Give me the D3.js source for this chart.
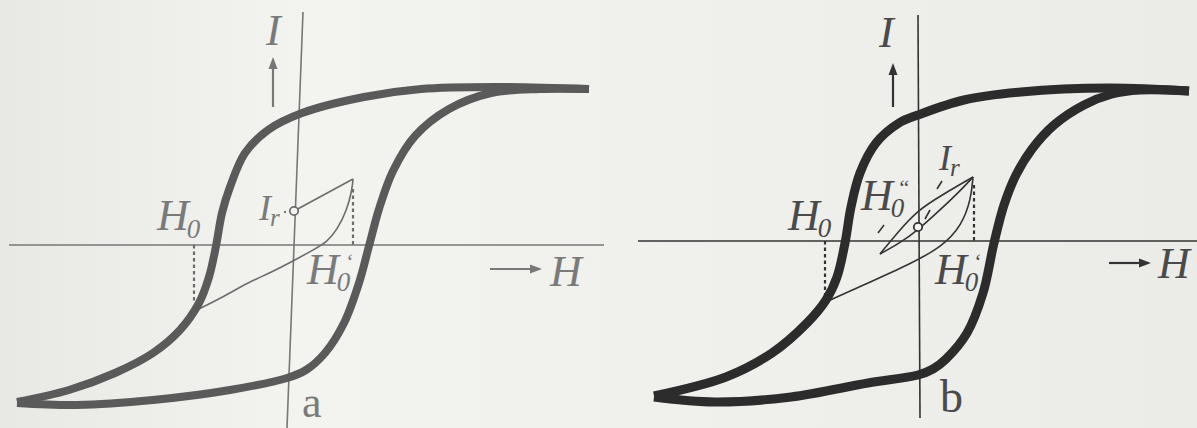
<!DOCTYPE html>
<html>
<head>
<meta charset="utf-8">
<script src="https://cdn.jsdelivr.net/npm/d3@7"></script>
<style>
html,body{margin:0;padding:0;background:#eeeeec;}
svg{display:block;}
</style>
</head>
<body>
<script>
// ---------- DATA (H, I in arbitrary field / magnetisation units) ----------
// Panel a – outer hysteresis loop
const aUpper = [[29.6,15.6],[20.4,15.8],[12.8,15.6],[7.1,14.8],[0.9,13.2],[-2.5,11.5],[-4.8,9.2],[-6.3,5.8],[-7.1,3.2],[-7.7,-0.1],[-8.4,-3.2],[-9.4,-5.8],[-11.3,-8.5],[-14.0,-10.8],[-17.8,-12.8],[-22.4,-14.5],[-27.6,-15.7]];
const aLower = [[-27.6,-15.8],[-21.6,-16.0],[-14.0,-15.5],[-6.3,-14.5],[-0.6,-13.3],[1.3,-12.5],[3.2,-10.8],[5.1,-7.8],[6.6,-3.8],[7.6,-0.1],[8.6,3.6],[10.0,7.4],[12.2,10.9],[15.6,13.6],[19.8,15.2],[24.7,15.6],[29.6,15.6]];
// Panel a – minor loop
const aIrLine = [[0.1,3.4],[6.0,6.6]];
const aMinor = [[6.0,6.6],[5.9,5.5],[5.4,3.5],[4.4,1.5],[3.4,0.3],[2.0,-0.5],[0.2,-1.5],[-2.3,-2.8],[-4.6,-3.8],[-6.8,-5.1],[-9.4,-6.4]];
const aIr = [0.1,3.4];
const aDotted = [[[-9.9,0],[-9.9,-5.7]],[[6.0,5.6],[6.0,0]]];
const aAxisH = [[-28.4,0],[31.1,0]];
const aAxisI = [[1.0,23.3],[-0.6,-18.3]];
const aArrowI = [[-2.0,13.8],[-2.0,18.8]];
const aArrowH = [[19.7,-2.4],[24.9,-2.4]];

// Panel b – outer hysteresis loop
const bUpper = [[27.1,15.0],[19.1,15.3],[10.3,14.9],[4.6,14.1],[0,12.6],[-1.9,11.8],[-4.2,9.8],[-5.8,6.8],[-6.7,3.4],[-7.3,-0.2],[-8.1,-3.6],[-9.2,-5.9],[-11.1,-8.2],[-14.6,-11.2],[-19.2,-13.6],[-26.4,-15.5]];
const bLower = [[-26.4,-15.6],[-20.3,-16.1],[-12.7,-15.6],[-5.0,-14.2],[0,-13.4],[1.5,-12.8],[2.8,-11.8],[4.9,-9.2],[6.5,-5.2],[7.6,-0.2],[8.6,3.6],[9.8,6.6],[11.4,9.2],[13.6,11.6],[16.6,13.6],[19.4,14.7],[22.2,15.1],[27.1,15.0]];
// Panel b – minor loops
const bMinor = [[-9.2,-6.1],[-5.0,-4.2],[-1.0,-2.4],[2.4,-0.6],[4.4,1.6],[5.3,4.2],[5.5,6.4]];
const bLensUpper = [[5.5,6.4],[2.4,4.6],[0,3.1],[-2.0,0.9],[-3.8,-1.3]];
const bLensLower = [[-3.8,-1.3],[-1.8,-0.2],[0,1.1],[2.2,3.1],[4.2,5.0],[5.5,6.4]];
const bIr = [0,1.4];
const bTicks = [[[-4.0,0.8],[-3.4,1.6]],[[0.7,2.2],[1.2,3.1]],[[1.9,5.2],[2.4,6.0]]];
const bDotted = [[[-9.3,0],[-9.3,-5.6]],[[5.6,5.6],[5.6,0]]];
const bAxisH = [[-28.0,0],[28.0,0]];
const bAxisI = [[0,22.6],[0.2,-17.7]];
const bArrowI = [[-2.5,13.4],[-2.5,17.8]];
const bArrowH = [[19.1,-2.2],[23.3,-2.2]];

// ---------- LAYOUT ----------
const W = 1197, H = 428;
const FONT = "'Liberation Serif','Times New Roman','Open Sans','Noto Sans',sans-serif";
const svg = d3.select("body").append("svg").attr("width", W).attr("height", H);
const defs = svg.append("defs");
const grad = defs.append("linearGradient").attr("id","bg").attr("x1","0").attr("x2","1").attr("y1","0").attr("y2","0");
grad.append("stop").attr("offset","0%").attr("stop-color","#e8e8e5");
grad.append("stop").attr("offset","25%").attr("stop-color","#f3f3f0");
grad.append("stop").attr("offset","55%").attr("stop-color","#f0f0ed");
grad.append("stop").attr("offset","100%").attr("stop-color","#ebebe8");
svg.append("rect").attr("width",W).attr("height",H).attr("fill","url(#bg)");

function panel(cfg){
  const x = d3.scaleLinear().domain([-30,30]).range([cfg.ox-300, cfg.ox+300]);
  const y = d3.scaleLinear().domain([-20,25]).range([cfg.oy+200, cfg.oy-250]);
  const g = svg.append("g");
  const smooth = d3.line().x(d=>x(d[0])).y(d=>y(d[1])).curve(d3.curveBasis);
  const soft = d3.line().x(d=>x(d[0])).y(d=>y(d[1])).curve(d3.curveCatmullRom.alpha(0.5));
  const straight = d3.line().x(d=>x(d[0])).y(d=>y(d[1]));

  [cfg.axisH, cfg.axisI].forEach(a=>{
    g.append("path").attr("d", straight(a)).attr("stroke", cfg.axisColor).attr("stroke-width",1.6).attr("fill","none");
  });
  cfg.dotted.forEach(a=>{
    g.append("path").attr("d", straight(a)).attr("stroke", cfg.thin).attr("stroke-width",2.2)
      .attr("stroke-dasharray","3.5,3").attr("fill","none");
  });
  cfg.minor.forEach(c=>{
    g.append("path").attr("d", c.length>2 ? smooth(c) : straight(c)).attr("stroke", cfg.thin).attr("stroke-width",1.6).attr("fill","none");
  });
  (cfg.ticks||[]).forEach(a=>{
    g.append("path").attr("d", straight(a)).attr("stroke", cfg.thin).attr("stroke-width",1.6).attr("fill","none");
  });
  [cfg.upper, cfg.lower].forEach(c=>{
    g.append("path").attr("d", soft(c)).attr("stroke", cfg.thick).attr("stroke-width",cfg.tw)
      .attr("fill","none").attr("stroke-linecap","butt").attr("stroke-linejoin","round");
  });
  g.append("circle").attr("cx", x(cfg.ir[0])).attr("cy", y(cfg.ir[1])).attr("r",4.2)
    .attr("fill","#f4f4f2").attr("stroke", cfg.thin).attr("stroke-width",1.8);

  function arrow(a){
    const p0=[x(a[0][0]),y(a[0][1])], p1=[x(a[1][0]),y(a[1][1])];
    const dx=p1[0]-p0[0], dy=p1[1]-p0[1], L=Math.hypot(dx,dy), ux=dx/L, uy=dy/L;
    const hl=12, hw=4.5;
    const bx=p1[0]-ux*hl, by=p1[1]-uy*hl;
    g.append("line").attr("x1",p0[0]).attr("y1",p0[1]).attr("x2",bx).attr("y2",by)
      .attr("stroke",cfg.axisColor).attr("stroke-width",2.2);
    g.append("path").attr("d",`M${p1[0]},${p1[1]}L${bx-uy*hw},${by+ux*hw}L${bx+uy*hw},${by-ux*hw}Z`)
      .attr("fill",cfg.axisColor);
  }
  arrow(cfg.arrowI); arrow(cfg.arrowH);

  // labels: main glyph + optional subscript + optional prime
  cfg.labels.forEach(l=>{
    const t = g.append("text").attr("x",l.x).attr("y",l.y)
      .style("font-family", FONT).style("font-weight", "300")
      .attr("font-style", l.up ? "normal":"italic")
      .attr("font-size", l.s).attr("fill", cfg.text);
    t.append("tspan").text(l.t);
    if (l.sub) t.append("tspan").attr("dx", l.sdx||-2).attr("dy", l.sdy).attr("font-size", l.ss).text(l.sub);
    if (l.pr) t.append("tspan").attr("dx", l.pdx).attr("dy", l.pdy).attr("font-size", l.ps).text(l.pr);
  });
  if (cfg.dot) g.append("circle").attr("cx",cfg.dot[0]).attr("cy",cfg.dot[1]).attr("r",1.2).attr("fill",cfg.text);
}

panel({
  ox:293, oy:245, upper:aUpper, lower:aLower, minor:[aIrLine, aMinor], ir:aIr, dotted:aDotted,
  axisH:aAxisH, axisI:aAxisI, arrowI:aArrowI, arrowH:aArrowH, tw:8,
  thick:"#5a5a5a", thin:"#6c6c6c", axisColor:"#777", text:"#7a7a7a", dot:[285,212],
  labels:[
    {t:"I", x:266, y:45, s:44},
    {t:"H", x:157, y:230, s:44, sub:"0", ss:27, sdy:8},
    {t:"I", x:259, y:220, s:36, sub:"r", ss:25, sdy:6, sdx:-1},
    {t:"H", x:307, y:284, s:44, sub:"0", ss:27, sdy:7, pr:"\u2018", ps:22, pdx:-5, pdy:-22},
    {t:"H", x:550, y:286, s:44},
    {t:"a", x:302, y:417, s:44, up:true}
  ]
});

panel({
  ox:918, oy:241, upper:bUpper, lower:bLower, minor:[bMinor, bLensUpper, bLensLower], ir:bIr, dotted:bDotted,
  ticks:bTicks, axisH:bAxisH, axisI:bAxisI, arrowI:bArrowI, arrowH:bArrowH, tw:9,
  thick:"#2c2c2c", thin:"#333", axisColor:"#333", text:"#4a4a4a",
  labels:[
    {t:"I", x:879, y:47, s:44},
    {t:"H", x:788, y:230, s:44, sub:"0", ss:27, sdy:7},
    {t:"H", x:861, y:210, s:44, sub:"0", ss:27, sdy:7, pr:"\u201C", ps:22, pdx:-7, pdy:-22},
    {t:"I", x:939, y:170, s:36, sub:"r", ss:25, sdy:6, sdx:-1},
    {t:"H", x:935, y:284, s:44, sub:"0", ss:27, sdy:7, pr:"\u2018", ps:22, pdx:-5, pdy:-22},
    {t:"H", x:1158, y:278, s:44},
    {t:"b", x:940, y:412, s:46, up:true}
  ]
});
</script>
</body>
</html>
